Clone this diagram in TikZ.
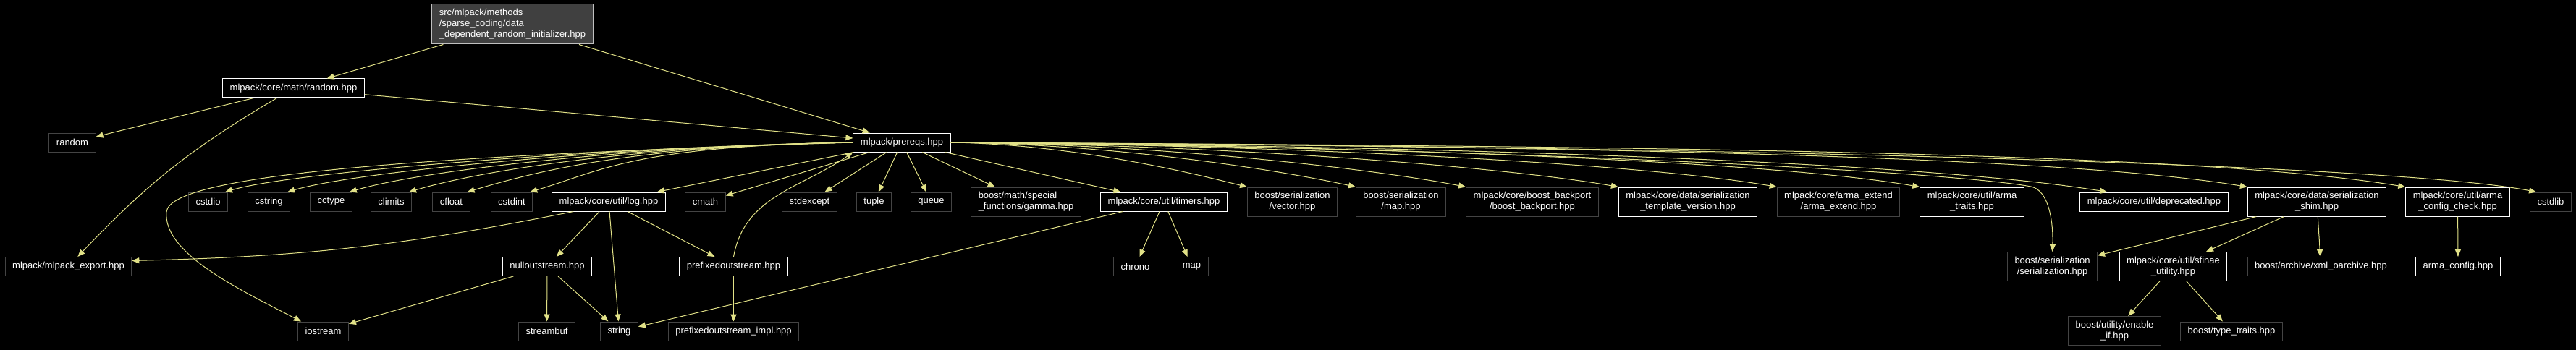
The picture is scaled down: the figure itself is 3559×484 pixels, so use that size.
\documentclass[tikz,border=0pt]{standalone}
\usepackage{fontspec}
\setmainfont{Liberation Sans}
\usetikzlibrary{arrows.meta}
\definecolor{edgeyellow}{RGB}{225,225,135}
\definecolor{boxgray}{RGB}{68,68,68}
\definecolor{rootgray}{RGB}{64,64,64}
\definecolor{rootline}{RGB}{192,192,192}
\tikzset{%
    file/.style={draw=boxgray,fill=black,text=white,line width=1pt,
        inner xsep=10pt,inner ysep=2pt,minimum height=26pt,align=center,
        font=\fontsize{13}{15}\selectfont}
}

\begin{document}
\begin{tikzpicture}[
        x=1pt,y=1pt,
        doc/.style={file,draw=white},
        twoline/.style={minimum height=40pt},
        rootfile/.style={file,fill=rootgray,draw=rootline,align=left,minimum height=55pt},
        edge/.style={draw=edgeyellow,line width=1pt,-{Triangle[length=10pt,width=8pt]}}
        ]
        \fill[black] (0,0) rectangle (3559,-484);
        \useasboundingbox (0,0) rectangle (3559,-484);

        \node[rootfile] (root) at (708,-33.5){src/mlpack/methods\\/sparse\_coding/data\\\_dependent\_random\_initializer.hpp};

        \node[doc] (randomhpp) at (405.5,-122){mlpack/core/math/random.hpp};
        \node[file] (random) at (100,-197){random};
        \node[doc] (prereqs) at (1246,-197){mlpack/prereqs.hpp};

        \node[file] (cstdio) at (287.5,-279){cstdio};
        \node[file] (cstring) at (371.5,-279){cstring};
        \node[file] (cctype) at (457.5,-279){cctype};
        \node[file] (climits) at (540.5,-279){climits};
        \node[file] (cfloat) at (623.5,-279){cfloat};
        \node[file] (cstdint) at (707,-279){cstdint};
        \node[doc] (log) at (841,-279){mlpack/core/util/log.hpp};
        \node[file] (cmath) at (974.5,-279){cmath};
        \node[file] (stdexcept) at (1118.5,-279){stdexcept};
        \node[file] (tuple) at (1207.5,-279){tuple};
        \node[file] (queue) at (1286.5,-279){queue};
        \node[file, twoline, align=left] (gamma) at (1417.5,-279){boost/math/special\\\_functions/gamma.hpp};
        \node[doc] (timers) at (1608,-279){mlpack/core/util/timers.hpp};
        \node[file, twoline] (vector) at (1785.5,-279){boost/serialization\\/vector.hpp};
        \node[file, twoline] (maphpp) at (1935.5,-279){boost/serialization\\/map.hpp};
        \node[file, twoline] (backport) at (2117,-279){mlpack/core/boost\_backport\\/boost\_backport.hpp};
        \node[doc, twoline] (tplver) at (2332,-279){mlpack/core/data/serialization\\\_template\_version.hpp};
        \node[file, twoline] (armaext) at (2540,-279){mlpack/core/arma\_extend\\/arma\_extend.hpp};
        \node[doc, twoline] (armatraits) at (2724.5,-279){mlpack/core/util/arma\\\_traits.hpp};
        \node[doc] (deprecated) at (2976,-279){mlpack/core/util/deprecated.hpp};
        \node[doc, twoline] (shim) at (3201,-279){mlpack/core/data/serialization\\\_shim.hpp};
        \node[doc, twoline] (armacheck) at (3395.5,-279){mlpack/core/util/arma\\\_config\_check.hpp};
        \node[file] (cstdlib) at (3524,-279){cstdlib};

        \node[file] (mlexport) at (94.5,-368.5){mlpack/mlpack\_export.hpp};
        \node[doc] (nullout) at (756,-368.5){nulloutstream.hpp};
        \node[doc] (prefout) at (1013.5,-368.5){prefixedoutstream.hpp};
        \node[file] (chrono) at (1568.5,-368.5){chrono};
        \node[file] (map) at (1646.5,-368.5){map};
        \node[file, twoline] (serial) at (2835.5,-368.5){boost/serialization\\/serialization.hpp};
        \node[doc, twoline] (sfinae) at (3002.5,-368.5){mlpack/core/util/sfinae\\\_utility.hpp};
        \node[file] (xmlo) at (3206.5,-368.5){boost/archive/xml\_oarchive.hpp};
        \node[doc] (armaconfig) at (3396,-368.5){arma\_config.hpp};

        \node[file] (iostream) at (446.5,-458){iostream};
        \node[file] (streambuf) at (755.5,-458){streambuf};
        \node[file] (string) at (855.5,-458){string};
        \node[file] (prefimpl) at (1013.5,-458){prefixedoutstream\_impl.hpp};
        \node[file, twoline] (enableif) at (2921.5,-457.5){boost/utility/enable\\\_if.hpp};
        \node[file] (typetraits) at (3083,-458){boost/type\_traits.hpp};

        % top file and random.hpp
        \draw[edge] (root) -- (randomhpp);
        \draw[edge] (root) -- (prereqs);
        \draw[edge] (randomhpp) -- (random);
        \draw[edge] (randomhpp) to[bend right=8] (mlexport);
        \draw[edge] (randomhpp) -- (prereqs);

        % prereqs.hpp, left side
        \draw[edge] (prereqs.west) .. controls +(-300,-5) and +(100,30) .. ([xshift=-4pt]cstdio.north east);
        \draw[edge] (prereqs.west) .. controls +(-300,-5) and +(100,30) .. ([xshift=-4pt]cstring.north east);
        \draw[edge] (prereqs.west) .. controls +(-300,-5) and +(100,30) .. ([xshift=-4pt]cctype.north east);
        \draw[edge] (prereqs.west) .. controls +(-300,-5) and +(100,30) .. ([xshift=-4pt]climits.north east);
        \draw[edge] (prereqs.west) .. controls +(-300,-5) and +(100,30) .. ([xshift=-4pt]cfloat.north east);
        \draw[edge] (prereqs.west) .. controls +(-300,-5) and +(100,30) .. ([xshift=-4pt]cstdint.north east);
        \draw[edge] (prereqs.west) .. controls (600,-215) and (235,-240) .. (230,-293)
            .. controls (225,-350) and (330,-400) .. ([xshift=5pt]iostream.north west);
        \draw[edge] (prereqs) -- (log);
        \draw[edge] (prereqs) -- (cmath);
        \draw[edge] (prereqs) -- (stdexcept);
        \draw[edge] (prereqs) -- (tuple);
        \draw[edge] (prereqs) -- (queue);
        \draw[edge] (prereqs) -- (gamma);
        \draw[edge] (prereqs) -- (timers);

        % prereqs.hpp, right side
        \draw[edge] (prereqs.east) .. controls +(180,-3) and +(-60,15) .. (vector.north west);
        \draw[edge] (prereqs.east) .. controls +(250,-3) and +(-80,18) .. (maphpp.north west);
        \draw[edge] (prereqs.east) .. controls +(320,-3) and +(-100,20) .. (backport.north west);
        \draw[edge] (prereqs.east) .. controls +(410,-4) and +(-140,25) .. (tplver.north west);
        \draw[edge] (prereqs.east) .. controls +(510,-4) and +(-170,30) .. (armaext.north west);
        \draw[edge] (prereqs.east) .. controls +(600,-5) and +(-200,35) .. (armatraits.north west);
        \draw[edge] (prereqs.east) .. controls (2100,-205) and (2700,-238) .. (2806,-258)
            .. controls (2831,-263) and (2837,-308) .. (serial.north);
        \draw[edge] (prereqs.east) .. controls +(720,-5) and +(-240,40) .. ([xshift=38pt]deprecated.north west);
        \draw[edge] (prereqs.east) .. controls +(800,-5) and +(-270,45) .. (shim.north west);
        \draw[edge] (prereqs.east) .. controls +(900,-5) and +(-300,50) .. (armacheck.north west);
        \draw[edge] (prereqs.east) .. controls +(1000,-5) and +(-200,40) .. ([xshift=9pt]cstdlib.north west);

        % log.hpp
        \draw[edge] ([xshift=30pt]log.south west) to[bend left=5] ([yshift=8pt]mlexport.east);
        \draw[edge] (log) -- (nullout);
        \draw[edge] (log) -- (string);
        \draw[edge] (log) -- (prefout);

        % nulloutstream.hpp
        \draw[edge] (nullout) -- (iostream);
        \draw[edge] (nullout) -- (streambuf);
        \draw[edge] (nullout) -- (string);

        % prefixedoutstream.hpp
        \draw[edge] (prefout) -- (prefimpl);
        \draw[edge] (prefout.north) to[out=80,in=215] (prereqs.south west);

        % timers.hpp
        \draw[edge] (timers) -- (chrono);
        \draw[edge] (timers) -- (map);
        \draw[edge] (timers) -- (string);

        % serialization_shim.hpp
        \draw[edge] (shim) -- (serial);
        \draw[edge] (shim) -- (sfinae);
        \draw[edge] (shim) -- (xmlo);
        \draw[edge] (armacheck) -- (armaconfig);

        % sfinae_utility.hpp
        \draw[edge] (sfinae) -- (enableif);
        \draw[edge] (sfinae) -- (typetraits);
    \end{tikzpicture}
\end{document}
